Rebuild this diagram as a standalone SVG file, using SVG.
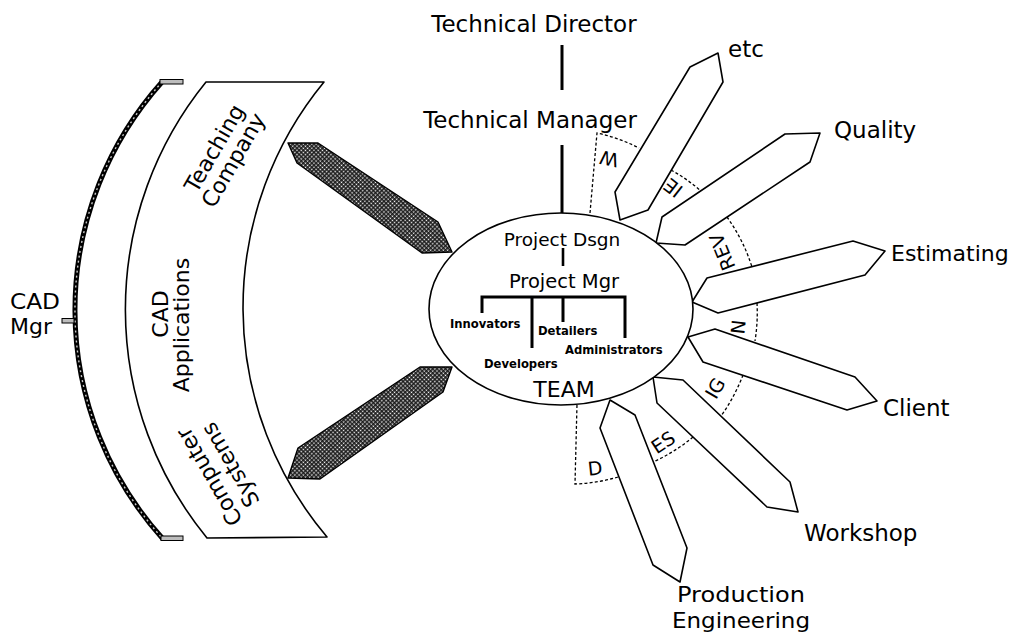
<svg xmlns="http://www.w3.org/2000/svg" width="1012" height="632" viewBox="0 0 1012 632">
  <defs>
    <pattern id="dots" width="3" height="3" patternUnits="userSpaceOnUse" patternTransform="rotate(45)">
      <rect width="3" height="3" fill="#151515"/>
      <rect x="0.6" y="0.6" width="1.5" height="1.5" fill="#ffffff"/>
    </pattern>
    <style>
      text { font-family: "DejaVu Sans", "Liberation Sans", sans-serif; fill: #000; }
      .big { font-size: 23px; }
      .mid { font-size: 22px; }
      .small { font-size: 11.6px; font-weight: bold; }
      .tag { font-size: 19px; }
      .outline { fill: #fff; stroke: #000; stroke-width: 1.6; stroke-linejoin: round; }
      .feed { fill: url(#dots); stroke: #000; stroke-width: 1.4; stroke-linejoin: round; }
      .link { stroke: #000; stroke-width: 3; fill: none; }
      .dash { stroke: #000; stroke-width: 1.3; fill: none; stroke-dasharray: 3 2.2; }
      .cap { fill: #bdbdbd; stroke: #000; stroke-width: 1; }
    </style>
  </defs>
  <rect width="1012" height="632" fill="#fff"/>

  <!-- CAD manager bracket -->
  <g id="cad-mgr">
    <path d="M162,82 A342,342 0 0,0 163,539" fill="none" stroke="#000" stroke-width="5"/>
    <path d="M162,82 A342,342 0 0,0 163,539" fill="none" stroke="#c8c8c8" stroke-width="1.4" stroke-dasharray="2 3"/>
    <rect class="cap" x="160" y="79.5" width="23" height="4.5"/>
    <rect class="cap" x="161" y="536" width="22" height="4.5"/>
    <rect class="cap" x="62" y="318.5" width="12" height="4.5"/>
    <text x="10" y="309" style="font-size:21px" textLength="50" lengthAdjust="spacingAndGlyphs">CAD</text>
    <text x="10" y="334" style="font-size:21px" textLength="42" lengthAdjust="spacingAndGlyphs">Mgr</text>
  </g>

  <!-- CAD support band -->
  <g id="cad-band">
    <path class="outline" d="M206,82 L324,82 A355,355 0 0,0 327,537 L207,538 A361,361 0 0,1 206,82 Z"/>
    <text class="mid" text-anchor="middle" transform="translate(214,148) rotate(-60)" y="8">Teaching</text>
    <text class="mid" text-anchor="middle" transform="translate(233,160) rotate(-60)" y="8">Company</text>
    <text class="mid" text-anchor="middle" transform="translate(160,314) rotate(-90)" y="8">CAD</text>
    <text class="mid" text-anchor="middle" transform="translate(181,325) rotate(-90)" y="8">Applications</text>
    <text class="mid" text-anchor="middle" transform="translate(209,477) rotate(-120)" y="8">Computer</text>
    <text class="mid" text-anchor="middle" transform="translate(230,465) rotate(-120)" y="8">Systems</text>
  </g>

  <!-- management chain -->
  <g id="technical-director">
    <text class="big" x="534" y="32" text-anchor="middle">Technical  Director</text>
  </g>
  <g id="technical-manager">
    <text class="big" x="530" y="128" text-anchor="middle">Technical  Manager</text>
  </g>

  <!-- design review sector -->
  <g id="design-review">
    <path class="dash" d="M590,213 L597,133 A176,176 0 0,1 639,148"/>
    <path class="dash" d="M671,170 A172,172 0 0,1 701,191"/>
    <path class="dash" d="M727,217 A178,178 0 0,1 752,267"/>
    <path class="dash" d="M757,303 A179,179 0 0,1 755,341"/>
    <path class="dash" d="M743,375 A178,178 0 0,1 721,416"/>
    <path class="dash" d="M693,437 A171,171 0 0,1 653,462"/>
    <path class="dash" d="M618,477 A173,173 0 0,1 575,484 L577,404"/>
    <text class="tag" text-anchor="middle" transform="translate(609,159) rotate(-168)" y="7">W</text>
    <text class="tag" text-anchor="middle" transform="translate(673,188) rotate(-142)" y="7">IE</text>
    <text class="tag" text-anchor="middle" transform="translate(722,252) rotate(-112)" y="7">REV</text>
    <text class="tag" text-anchor="middle" transform="translate(738,327) rotate(-84)" y="7">N</text>
    <text class="tag" text-anchor="middle" transform="translate(715,388) rotate(-60)" y="7">IG</text>
    <text class="tag" text-anchor="middle" transform="translate(663,442) rotate(-33)" y="7">ES</text>
    <text class="tag" text-anchor="middle" transform="translate(595,468) rotate(-6)" y="7">D</text>
  </g>

  <!-- links between the parts -->
  <g id="connectors">
    <line class="link" x1="562" y1="45" x2="562" y2="90"/>
    <line class="link" x1="562" y1="145" x2="562" y2="214"/>
    <polygon class="feed" points="288,143 318,143 438,222 452,252 422,253 297,163"/>
    <polygon class="feed" points="420,367 452,367 443,392 320,479 288,478 298,448"/>
    <polygon class="outline" points="620,220 615,192 690,67 718,53 723,82 648,210"/>
    <polygon class="outline" points="656,243 662,217 785,134 820,133 810,162 685,245"/>
    <polygon class="outline" points="692,302 707,278 853,241 885,251 865,275 718,313"/>
    <polygon class="outline" points="688,337 715,329 855,377 877,401 847,410 703,362"/>
    <polygon class="outline" points="653,377 683,380 790,482 798,512 767,507 657,403"/>
    <polygon class="outline" points="610,400 635,415 687,548 680,582 653,565 600,428"/>
  </g>

  <!-- project team -->
  <g id="team">
    <ellipse class="outline" cx="561" cy="309" rx="132" ry="96"/>
    <text x="562" y="246" text-anchor="middle" style="font-size:18.5px">Project  Dsgn</text>
    <line x1="563" y1="248" x2="563" y2="266" stroke="#000" stroke-width="2.6"/>
    <text x="564" y="288" text-anchor="middle" style="font-size:19.5px">Project  Mgr</text>
    <path d="M482,313 V297 H625 V338 M532,297 V348 M563,297 V322" fill="none" stroke="#000" stroke-width="3"/>
    <text class="small" x="450" y="328">Innovators</text>
    <text class="small" x="538" y="335">Detailers</text>
    <text class="small" x="565" y="354">Administrators</text>
    <text class="small" x="484" y="368">Developers</text>
    <text x="564" y="397" text-anchor="middle" style="font-size:22px">TEAM</text>
  </g>

  <!-- outside parties -->
  <g id="etc"><text class="big" x="728" y="57">etc</text></g>
  <g id="quality"><text class="big" x="834" y="138">Quality</text></g>
  <g id="estimating"><text class="mid" x="891" y="261">Estimating</text></g>
  <g id="client"><text class="big" x="883" y="416">Client</text></g>
  <g id="workshop"><text class="big" x="804" y="541">Workshop</text></g>
  <g id="production-engineering">
    <text x="741" y="602" text-anchor="middle" style="font-size:22px" textLength="128" lengthAdjust="spacingAndGlyphs">Production</text>
    <text x="741" y="628" text-anchor="middle" style="font-size:22px" textLength="138" lengthAdjust="spacingAndGlyphs">Engineering</text>
  </g>
</svg>
